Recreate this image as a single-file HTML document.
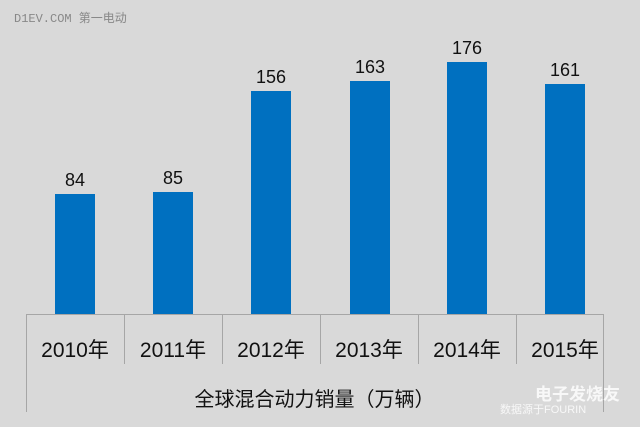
<!DOCTYPE html><html><head><style>
body{margin:0;width:640px;height:427px;background:#d9d9d9;position:relative;overflow:hidden;font-family:"Liberation Sans","Noto Sans CJK SC",sans-serif}
.b{position:absolute;background:#0070c0;width:40px}
.v{position:absolute;width:80px;text-align:center;font-size:18px;color:#111}
.y{position:absolute;width:98px;text-align:center;font-size:21px;color:#111;top:334px}
.l{position:absolute;background:#a6a6a6;width:1px}
</style></head><body>
<div style="position:absolute;left:14px;top:9px;font-size:12px;color:#888;font-family:'Liberation Mono','Noto Sans CJK SC',monospace">D1EV.COM 第一电动</div>
<div style="position:absolute;left:26px;top:314px;width:577px;height:1px;background:#a6a6a6"></div>
<div class="l" style="left:26px;top:314px;height:98px"></div>
<div class="l" style="left:603px;top:314px;height:98px"></div>
<div class="l" style="left:124px;top:314px;height:50px"></div>
<div class="l" style="left:222px;top:314px;height:50px"></div>
<div class="l" style="left:320px;top:314px;height:50px"></div>
<div class="l" style="left:418px;top:314px;height:50px"></div>
<div class="l" style="left:516px;top:314px;height:50px"></div>
<div class="b" style="left:55px;top:194px;height:120px"></div>
<div class="b" style="left:153px;top:192px;height:122px"></div>
<div class="b" style="left:251px;top:91px;height:223px"></div>
<div class="b" style="left:350px;top:81px;height:233px"></div>
<div class="b" style="left:447px;top:62px;height:252px"></div>
<div class="b" style="left:545px;top:84px;height:230px"></div>
<div class="v" style="left:35px;top:170px">84</div>
<div class="v" style="left:133px;top:168px">85</div>
<div class="v" style="left:231px;top:67px">156</div>
<div class="v" style="left:330px;top:57px">163</div>
<div class="v" style="left:427px;top:38px">176</div>
<div class="v" style="left:525px;top:60px">161</div>
<div class="y" style="left:26px">2010年</div>
<div class="y" style="left:124px">2011年</div>
<div class="y" style="left:222px">2012年</div>
<div class="y" style="left:320px">2013年</div>
<div class="y" style="left:418px">2014年</div>
<div class="y" style="left:516px">2015年</div>
<div style="position:absolute;left:26px;width:577px;top:383px;text-align:center;font-size:20px;color:#111">全球混合动力销量（万辆）</div>
<div style="position:absolute;left:535px;top:380px;font-size:17px;color:rgba(255,255,255,0.8);font-weight:bold">电子发烧友</div>
<div style="position:absolute;left:500px;top:401px;font-size:11px;color:rgba(255,255,255,0.8)">数据源于FOURIN</div>
</body></html>
